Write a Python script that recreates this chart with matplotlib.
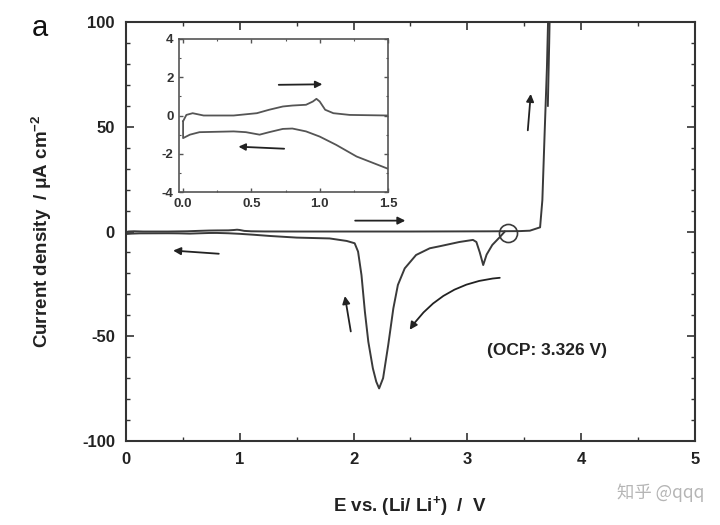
import numpy as np
import matplotlib
matplotlib.use('Agg')
import matplotlib.pyplot as plt
from matplotlib.ticker import MultipleLocator

plt.rcParams['font.family'] = ['Liberation Sans', 'DejaVu Sans']
plt.rcParams['mathtext.fontset'] = 'custom'
plt.rcParams['mathtext.rm'] = 'Liberation Sans:bold'
plt.rcParams['mathtext.it'] = 'Liberation Sans:bold'
plt.rcParams['mathtext.bf'] = 'Liberation Sans:bold'
plt.rcParams['axes.unicode_minus'] = False

# cathodic scan: OCP -> 0 V
cath_E = [3.33, 3.28, 3.22, 3.17, 3.14, 3.11, 3.08, 3.05, 2.93, 2.76, 2.67, 2.55,
          2.45, 2.39, 2.35, 2.305, 2.26, 2.225, 2.20, 2.17, 2.13, 2.10, 2.07, 2.04,
          2.01, 1.94, 1.79, 1.5, 1.27, 1.12, 1.0, 0.90, 0.80, 0.73, 0.63, 0.56, 0.46,
          0.37, 0.12, 0.05, 0.0]
cath_I = [0.0, -3.0, -6.4, -11.0, -16.0, -10.0, -5.0, -4.0, -5.0, -7.0, -8.0, -11.2,
          -17.6, -25.5, -36.7, -54.2, -70.0, -74.9, -71.7, -65.3, -52.6, -38.3, -20.8, -9.6,
          -5.6, -4.5, -3.3, -2.9, -2.14, -1.53, -1.1, -0.83, -0.68, -0.7, -0.87, -1.0, -0.87,
          -0.83, -0.87, -1.0, -1.18]
# anodic scan: 0 V -> upper limit
anod_E = [0.0, 0.0, 0.024, 0.07, 0.15, 0.37, 0.54, 0.63, 0.73, 0.80, 0.90, 0.95, 0.976,
          1.0, 1.04, 1.1, 1.22, 1.5, 2.5, 3.2, 3.46, 3.55, 3.64, 3.66, 3.68, 3.70, 3.71, 3.712]
anod_I = [-1.18, -0.3, 0.03, 0.12, 0.0, 0.0, 0.12, 0.3, 0.47, 0.52, 0.56, 0.73, 0.87,
          0.73, 0.3, 0.12, 0.03, 0.0, 0.0, 0.1, 0.2, 0.4, 2.0, 15.0, 47.0, 78.0, 100.0, 110.0]
# return branch above the upper limit
ret_E = [3.727, 3.72, 3.708]
ret_I = [110.0, 90.0, 60.0]

ocp = 3.326

# inset curves (0 - 1.5 V)
in_up_E = [0.0, 0.024, 0.07, 0.15, 0.37, 0.54, 0.63, 0.73, 0.80, 0.90, 0.95, 0.976,
           1.0, 1.04, 1.1, 1.22, 1.5]
in_up_I = [-0.3, 0.03, 0.12, 0.0, 0.0, 0.12, 0.3, 0.47, 0.52, 0.56, 0.73, 0.87,
           0.73, 0.3, 0.12, 0.03, 0.0]
in_lo_E = [0.0, 0.0, 0.05, 0.12, 0.37, 0.46, 0.56, 0.63, 0.73, 0.80, 0.90, 1.0, 1.12,
           1.27, 1.5]
in_lo_I = [-0.3, -1.18, -1.0, -0.87, -0.83, -0.87, -1.0, -0.87, -0.7, -0.68, -0.83,
           -1.1, -1.53, -2.14, -2.78]

line_c = '#3a3a3a'

fig = plt.figure(figsize=(7.2, 5.25), dpi=100)
ax = fig.add_axes([0.175, 0.16, 0.79, 0.798])

ax.plot(cath_E, cath_I, color=line_c, lw=1.4, solid_joinstyle='round')
ax.plot(anod_E, anod_I, color=line_c, lw=1.4, solid_joinstyle='round')
ax.plot(ret_E, ret_I, color=line_c, lw=1.4)
ax.plot([ocp + 0.03], [-0.5], 'o', ms=13, mfc='none', mec=line_c, mew=1.2)

ax.set_xlim(0, 5)
ax.set_ylim(-100, 100)
ax.xaxis.set_major_locator(MultipleLocator(1))
ax.xaxis.set_minor_locator(MultipleLocator(0.5))
ax.yaxis.set_major_locator(MultipleLocator(50))
ax.yaxis.set_minor_locator(MultipleLocator(10))
ax.tick_params(which='both', direction='in', top=True, right=True, color='#333333')
ax.tick_params(which='major', length=6, width=1.2, labelsize=12, pad=8)
ax.tick_params(which='minor', length=3, width=1.0)
for lab in ax.get_xticklabels() + ax.get_yticklabels():
    lab.set_fontweight('bold')
    lab.set_color('#222222')
for s in ax.spines.values():
    s.set_linewidth(1.5)
    s.set_color('#333333')

ax.set_xlabel('E vs. (Li/ Li$^{+}$)  /  V', fontsize=13.5, fontweight='bold',
              color='#222222', labelpad=19)
ax.set_ylabel('Current density  / $\\mu$A cm$^{-2}$', fontsize=13.5, fontweight='bold',
              color='#222222', labelpad=20)

arr = dict(arrowstyle='-|>', color='#222222', lw=1.3, mutation_scale=11)
ax.annotate('', xy=(0.39, -9), xytext=(0.84, -10.7), arrowprops=arr)
ax.annotate('', xy=(1.92, -29.5), xytext=(1.98, -49), arrowprops=arr)
ax.annotate('', xy=(3.56, 67), xytext=(3.53, 47), arrowprops=arr)
ax.annotate('', xy=(2.48, 5.2), xytext=(1.99, 5.2), arrowprops=arr)
ax.annotate('', xy=(2.48, -48), xytext=(3.31, -22),
            arrowprops=dict(arrowstyle='-|>', color='#222222', lw=1.3, mutation_scale=11,
                            connectionstyle='arc3,rad=0.25'))

ax.text(3.7, -57, '(OCP: 3.326 V)', fontsize=12.5, fontweight='bold', color='#222222',
        ha='center', va='center')

# inset
ins = fig.add_axes([0.2486, 0.634, 0.2903, 0.292])
ins.plot(in_up_E, in_up_I, color='#555555', lw=1.3, solid_joinstyle='round')
ins.plot(in_lo_E, in_lo_I, color='#555555', lw=1.3, solid_joinstyle='round')
ins.set_xlim(-0.03, 1.5)
ins.set_ylim(-4, 4)
ins.xaxis.set_minor_locator(MultipleLocator(0.25))
ins.yaxis.set_major_locator(MultipleLocator(2))
ins.yaxis.set_minor_locator(MultipleLocator(1))
ins.set_xticks([0.0, 0.5, 1.0, 1.5])
ins.set_xticklabels(['0.0', '0.5', '1.0', '1.5'])
ins.tick_params(which='both', direction='in', top=True, right=True, color='#555555')
ins.tick_params(which='major', length=3, width=1.0, labelsize=9.5, pad=4)
ins.tick_params(which='minor', length=1.5, width=0.8)
for lab in ins.get_xticklabels() + ins.get_yticklabels():
    lab.set_fontweight('bold')
    lab.set_color('#333333')
for s in ins.spines.values():
    s.set_linewidth(1.2)
    s.set_color('#555555')
arr2 = dict(arrowstyle='-|>', color='#222222', lw=1.3, mutation_scale=10)
ins.annotate('', xy=(1.04, 1.63), xytext=(0.68, 1.6), arrowprops=arr2)
ins.annotate('', xy=(0.385, -1.62), xytext=(0.76, -1.74), arrowprops=arr2)

fig.text(0.055, 0.947, 'a', fontsize=21, color='#111111', ha='center', va='center')
fig.text(0.917, 0.061, '知乎 @qqq', fontsize=12.5, color='#b5b5b5', ha='center',
         va='center', family=['Noto Sans CJK SC', 'DejaVu Sans'])

fig.savefig('out.png', dpi=100)
